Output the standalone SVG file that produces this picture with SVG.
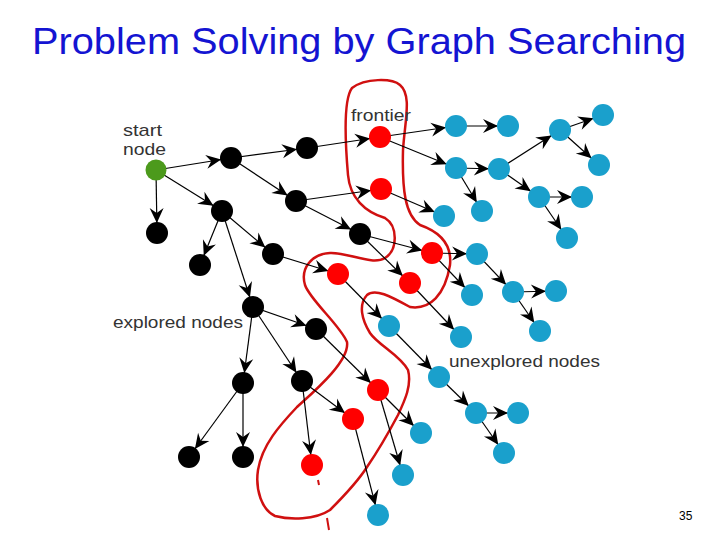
<svg xmlns="http://www.w3.org/2000/svg" width="720" height="540" viewBox="0 0 720 540">
<defs>
<marker id="ah" viewBox="-26 -8 28 16" refX="0" refY="0" markerWidth="28" markerHeight="16" markerUnits="userSpaceOnUse" orient="auto"><path d="M-25,-7 L-10,0 L-25,7 L-20,0 z" fill="#000"/></marker>
<style>
.e line{stroke:#000;stroke-width:1.2;marker-end:url(#ah)}
.k{fill:#000}.r{fill:#f00}.b{fill:#1aa0cc}.g{fill:#4c9a1c}
.t{font-family:"Liberation Sans",Arial,sans-serif;fill:#333;font-size:17px}
</style>
</defs>
<rect width="720" height="540" fill="#fff"/>
<text x="32" y="54" font-family="Liberation Sans,Arial,sans-serif" font-size="36" fill="#1414d2" textLength="654" lengthAdjust="spacingAndGlyphs">Problem Solving by Graph Searching</text>
<path id="frontier-outline" d="M367,295 C375,288 390,296 410,307 C430,310 445,295 450,265 C452,245 440,232 420,225 C405,215 402,190 403,150 C405,120 412,95 400,85 C392,78 365,78 352,88 C343,100 345,140 348,175 C350,198 365,212 385,218 C398,226 398,250 385,258 C372,266 348,252 330,253 C312,254 300,268 305,285 C310,300 340,325 347,342 C350,362 310,395 297,407 C280,425 262,445 258,470 C255,490 262,510 275,516 C290,520 315,520 330,510 C345,495 360,478 367,467 C380,448 390,430 398,415 C405,400 412,385 408,370 C400,355 378,345 370,333 C362,320 358,305 367,295 Z" fill="none" stroke="#d01010" stroke-width="2.5"/>
<path d="M318,480 l1,5 M327,518 l2,12" stroke="#d01010" stroke-width="2"/>
<g id="connectors" class="e">
<line x1="156" y1="170" x2="231" y2="158"/>
<line x1="156" y1="170" x2="222" y2="211"/>
<line x1="156" y1="170" x2="157" y2="233"/>
<line x1="231" y1="158" x2="307" y2="148"/>
<line x1="231" y1="158" x2="296" y2="201"/>
<line x1="307" y1="148" x2="380" y2="137"/>
<line x1="296" y1="201" x2="381" y2="189"/>
<line x1="296" y1="201" x2="360" y2="234"/>
<line x1="222" y1="211" x2="200" y2="265"/>
<line x1="222" y1="211" x2="273" y2="254"/>
<line x1="222" y1="211" x2="253" y2="307"/>
<line x1="273" y1="254" x2="338" y2="274"/>
<line x1="360" y1="234" x2="432" y2="253"/>
<line x1="360" y1="234" x2="410" y2="283"/>
<line x1="380" y1="137" x2="456" y2="126"/>
<line x1="380" y1="137" x2="456" y2="168"/>
<line x1="456" y1="126" x2="508" y2="126"/>
<line x1="381" y1="189" x2="444" y2="216"/>
<line x1="456" y1="168" x2="499" y2="169"/>
<line x1="456" y1="168" x2="482" y2="211"/>
<line x1="499" y1="169" x2="560" y2="130"/>
<line x1="560" y1="130" x2="603" y2="115"/>
<line x1="560" y1="130" x2="599" y2="165"/>
<line x1="499" y1="169" x2="539" y2="197"/>
<line x1="539" y1="197" x2="582" y2="197"/>
<line x1="539" y1="197" x2="567" y2="238"/>
<line x1="432" y1="253" x2="477" y2="254"/>
<line x1="432" y1="253" x2="472" y2="295"/>
<line x1="477" y1="254" x2="513" y2="292"/>
<line x1="513" y1="292" x2="556" y2="291"/>
<line x1="513" y1="292" x2="540" y2="331"/>
<line x1="410" y1="283" x2="461" y2="337"/>
<line x1="338" y1="274" x2="389" y2="326"/>
<line x1="389" y1="326" x2="439" y2="377"/>
<line x1="439" y1="377" x2="476" y2="413"/>
<line x1="476" y1="413" x2="518" y2="413"/>
<line x1="476" y1="413" x2="504" y2="453"/>
<line x1="253" y1="307" x2="316" y2="329"/>
<line x1="253" y1="307" x2="243" y2="383"/>
<line x1="253" y1="307" x2="302" y2="381"/>
<line x1="243" y1="383" x2="189" y2="457"/>
<line x1="243" y1="383" x2="243" y2="457"/>
<line x1="316" y1="329" x2="378" y2="390"/>
<line x1="302" y1="381" x2="353" y2="419"/>
<line x1="302" y1="381" x2="312" y2="465"/>
<line x1="378" y1="390" x2="421" y2="433"/>
<line x1="378" y1="390" x2="403" y2="475"/>
<line x1="353" y1="419" x2="378" y2="515"/>
</g>
<g id="start"><circle class="g" cx="156" cy="170" r="10.5"/></g>
<g id="explored" class="k">
<circle cx="231" cy="158" r="11"/><circle cx="307" cy="148" r="11"/><circle cx="222" cy="211" r="11"/><circle cx="296" cy="201" r="11"/><circle cx="157" cy="233" r="11"/><circle cx="200" cy="265" r="11"/><circle cx="273" cy="254" r="11"/><circle cx="360" cy="234" r="11"/><circle cx="253" cy="307" r="11"/><circle cx="316" cy="329" r="11"/><circle cx="243" cy="383" r="11"/><circle cx="302" cy="381" r="11"/><circle cx="189" cy="457" r="11"/><circle cx="243" cy="457" r="11"/>
</g>
<g id="frontier" class="r">
<circle cx="380" cy="137" r="11"/><circle cx="381" cy="189" r="11"/><circle cx="432" cy="253" r="11"/><circle cx="338" cy="274" r="11"/><circle cx="410" cy="283" r="11"/><circle cx="378" cy="390" r="11"/><circle cx="353" cy="419" r="11"/><circle cx="312" cy="465" r="11"/>
</g>
<g id="unexplored" class="b">
<circle cx="456" cy="126" r="11"/><circle cx="508" cy="126" r="11"/><circle cx="456" cy="168" r="11"/><circle cx="499" cy="169" r="11"/><circle cx="482" cy="211" r="11"/><circle cx="444" cy="216" r="11"/><circle cx="560" cy="130" r="11"/><circle cx="603" cy="115" r="11"/><circle cx="599" cy="165" r="11"/><circle cx="539" cy="197" r="11"/><circle cx="582" cy="197" r="11"/><circle cx="567" cy="238" r="11"/><circle cx="477" cy="254" r="11"/><circle cx="472" cy="295" r="11"/><circle cx="513" cy="292" r="11"/><circle cx="556" cy="291" r="11"/><circle cx="540" cy="331" r="11"/><circle cx="461" cy="337" r="11"/><circle cx="389" cy="326" r="11"/><circle cx="439" cy="377" r="11"/><circle cx="476" cy="413" r="11"/><circle cx="518" cy="413" r="11"/><circle cx="504" cy="453" r="11"/><circle cx="421" cy="433" r="11"/><circle cx="403" cy="475" r="11"/><circle cx="378" cy="515" r="11"/>
</g>
<g id="labels">
<text class="t" x="123" y="136" font-size="16" textLength="39" lengthAdjust="spacingAndGlyphs">start</text>
<text class="t" x="123" y="155" font-size="16" textLength="43" lengthAdjust="spacingAndGlyphs">node</text>
<text class="t" x="351" y="121" textLength="60" lengthAdjust="spacingAndGlyphs">frontier</text>
<text class="t" x="113" y="328" textLength="130" lengthAdjust="spacingAndGlyphs">explored nodes</text>
<text class="t" x="449" y="367" textLength="151" lengthAdjust="spacingAndGlyphs">unexplored nodes</text>
<text x="679" y="520" font-family="Liberation Sans,Arial,sans-serif" font-size="12" fill="#000">35</text>
</g>
</svg>
